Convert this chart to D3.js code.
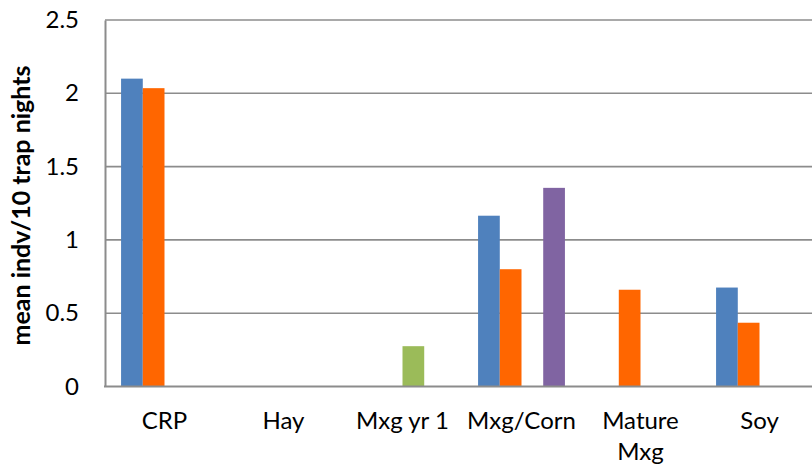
<!DOCTYPE html>
<html>
<head>
<meta charset="utf-8">
<script src="https://cdn.jsdelivr.net/npm/d3@7"></script>
<style>
  html, body { margin: 0; padding: 0; background: #fff; }
  svg { display: block; }
  text { font-family: Lato, "Open Sans", sans-serif; fill: #000; }
</style>
</head>
<body>
<svg id="chart" width="812" height="467"></svg>
<script>
// Habitat categories along the x axis (a nested array means a wrapped label)
const categories = ["CRP", "Hay", "Mxg yr 1", "Mxg/Corn", "Mature Mxg", "Soy"];
const categoryLines = [["CRP"], ["Hay"], ["Mxg yr 1"], ["Mxg/Corn"], ["Mature", "Mxg"], ["Soy"]];

// Mean individuals per 10 trap nights, one array per series (null = no bar)
const seriesNames = ["series1", "series2", "series3", "series4"];
const series1 = [2.10, null, null, 1.165, null, 0.675];
const series2 = [2.035, null, null, 0.80, 0.66, 0.435];
const series3 = [null, null, 0.275, null, null, null];
const series4 = [null, null, null, 1.355, null, null];
const seriesValues = [series1, series2, series3, series4];
const seriesColors = ["#4F81BD", "#FF6600", "#9BBB59", "#8064A2"];

const yTicks = [0, 0.5, 1, 1.5, 2, 2.5];
const yTitle = "mean indv/10 trap nights";

const svg = d3.select("#chart");

const plotLeft = 105, plotRight = 819, plotTop = 20, plotBottom = 386.5;

const x0 = d3.scaleBand().domain(categories).range([plotLeft, plotRight]).paddingInner(0).paddingOuter(0);
const x1 = d3.scaleBand().domain(seriesNames).range([0, x0.bandwidth()]).paddingInner(0).paddingOuter(0.74);
const y = d3.scaleLinear().domain([0, 2.5]).range([plotBottom, plotTop]);

// horizontal gridlines
svg.append("g")
  .selectAll("line")
  .data(yTicks.filter(t => t > 0))
  .join("line")
  .attr("x1", plotLeft).attr("x2", 812)
  .attr("y1", d => y(d)).attr("y2", d => y(d))
  .attr("stroke", "#8c8c8c")
  .attr("stroke-width", 1.6);

// bars
const rows = [];
categories.forEach((c, i) => {
  seriesNames.forEach((s, j) => {
    const v = seriesValues[j][i];
    if (v != null) rows.push({ c, s, v, color: seriesColors[j] });
  });
});

svg.append("g")
  .selectAll("rect")
  .data(rows)
  .join("rect")
  .attr("x", d => x0(d.c) + x1(d.s))
  .attr("width", x1.bandwidth())
  .attr("y", d => y(d.v))
  .attr("height", d => y(0) - y(d.v))
  .attr("fill", d => d.color);

// y axis
const yAxis = d3.axisLeft(y).tickValues(yTicks).tickFormat(d3.format("")).tickSize(0).tickPadding(26);
const ya = svg.append("g").attr("transform", `translate(${plotLeft},0)`).call(yAxis);
ya.select(".domain").attr("stroke", "#8c8c8c").attr("stroke-width", 2);
ya.selectAll("text")
  .style("font-family", "Lato, 'Open Sans', sans-serif")
  .style("font-size", "24px")
  .attr("fill", "#000");

// x axis baseline
svg.append("line")
  .attr("x1", plotLeft - 1).attr("x2", 812)
  .attr("y1", plotBottom).attr("y2", plotBottom)
  .attr("stroke", "#8c8c8c")
  .attr("stroke-width", 2);

// category labels
const xl = svg.append("g");
categories.forEach((c, i) => {
  const t = xl.append("text")
    .attr("x", x0(c) + x0.bandwidth() / 2)
    .attr("y", 429)
    .attr("text-anchor", "middle")
    .style("font-size", "24px");
  categoryLines[i].forEach((line, k) => {
    t.append("tspan")
      .attr("x", x0(c) + x0.bandwidth() / 2)
      .attr("dy", k === 0 ? 0 : 31)
      .text(line);
  });
});

// y axis title
svg.append("text")
  .attr("transform", "translate(30,205.5) rotate(-90)")
  .attr("text-anchor", "middle")
  .style("font-size", "25px")
  .style("font-weight", "bold")
  .text(yTitle);
</script>
</body>
</html>
